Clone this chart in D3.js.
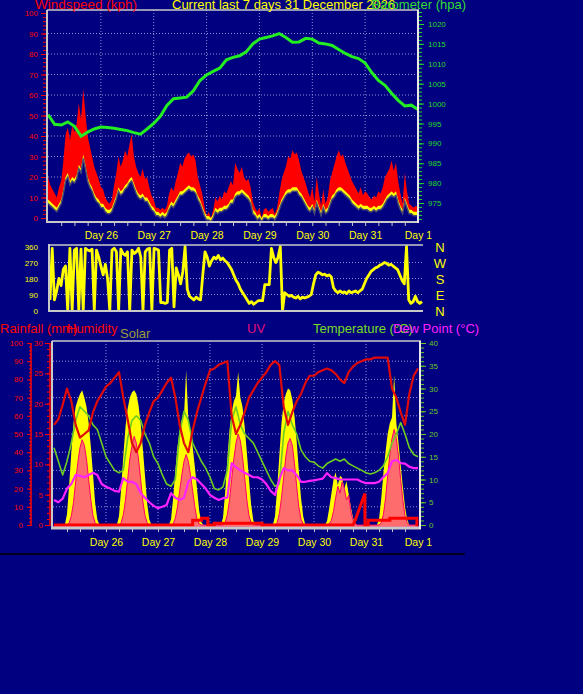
<!DOCTYPE html>
<html>
<head>
<meta charset="utf-8">
<script src="https://cdn.jsdelivr.net/npm/d3@7"></script>
<style>
  html, body { margin: 0; padding: 0; background: #000080; }
  svg { display: block; font-family: "Liberation Sans", Arial, sans-serif; }
</style>
</head>
<body>
<div id="viz"></div>
<script>
// all series are indexed by hour since 25 Dec 00:00 (hourly, 2-hourly or 3-hourly)
var dayLabels = ["Day 26", "Day 27", "Day 28", "Day 29", "Day 30", "Day 31", "Day 1"];
var dayHours = [24, 48, 72, 96, 120, 144, 168];

// wind gust, kph, hourly
var windGust = [20,16,14,12,10, 15,18,28, 41,44,38, 45,42,46, 56,48,63, 51,40, 35,30,25,22,
  19,15,14,10,8,7,9, 16,22,30,25,28, 33,30,36,41, 30,25,22,20,24, 19,20,15,11,9,
  5,5,4,5,4,6, 12,15,13,18, 22,27,25,29, 31,32,30,31,28, 20,16,12,6,1, 3,0,4,
  10,8,11,9,13,12,15, 18,16,27,24, 22,25,20,18,19,15, 8,5,3, 5,0,4,5,3,4,5,2,5,
  12,18,22,25, 30,29,33,31,32,28, 23,20,17,13, 10,15,8,20,12,6,14,7,10,
  18,22,26,30,33, 30,31,27,24, 21,18,16,14,12,15,11,13,12, 10,9,11,10,13,12,
  15,20,22,24,28,23,27, 18,12,7,22, 13,7,6,5,6,5];

// average wind speed, kph, hourly
var windAvg = [9,8,7,6,5, 7,9,14, 20,22,18, 20,19,21, 26,24,31, 26,20, 17,15,12,10,
  9,7,7,5,4,4,5, 8,11,15,13,14, 16,17,19,20, 17,14,12,11,12, 10,10,8,6,5,
  3,3,2,3,2,3, 6,8,7,9, 11,13,13,14, 15,16,15,15,14, 11,9,6,3,1, 1,0,2,
  5,4,5,5,6,6,7, 9,9,12,13, 13,14,13,12,11,9, 4,3,1, 2,0,2,2,1,2,2,1,3,
  6,9,11,13, 14,14,15,15,15,13, 12,10,8,6, 5,7,4,9,6,3,7,4,5,
  8,11,12,14,15, 15,14,13,12, 11,9,8,7,6,7,6,6,6, 5,5,6,5,6,6,
  7,9,11,12,13,12,13, 9,6,4,10, 7,4,4,3,3,3];

// barometer, hPa, every 3 hours
var pressure = [997.2,994.8,994.6,995.4,994.3,991.8,992.8,993.6,994.1,994.0,
  993.8,993.5,993.2,992.7,992.3,993.6,995.0,996.8,999.5,1001.2,
  1001.4,1001.6,1003.2,1005.8,1007.2,1008.1,1008.9,1011.0,1011.6,1012.0,
  1013.0,1015.0,1016.2,1016.6,1017.0,1017.6,1016.6,1015.4,1015.5,1016.4,
  1016.2,1015.2,1015.0,1014.6,1013.6,1012.6,1011.8,1011.3,1010.2,1007.8,
  1005.8,1004.6,1002.6,1000.8,999.4,999.6,998.5];

// wind direction, degrees, hourly
var windDir = [60,350,60,110,180,140,230,250,0,350, 0,340,350,0,345,0,350,340,335,345,
  0,340,300,250,200,260,180,0,340,350, 330,0,345,320,310,330,0,340,320,330,
  350,300,0,330,345,350,0,
  350,345,340,45,45,40,45,340,350,20, 240,200,150,220,360,120,80,70,60,75,
  65,60,200,330,300,250,280,300,290,310, 285,295,280,270,250,230,200,170,150,120,
  100,80,60,40,50,35,45,55,55,55, 145,145,145,350,300,270,300,360,0,100,
  90,80,85,75,70,80,65,75,70,75, 80,90,
  150,200,215,210,200,205,195,200,190,130, 110,100,110,100,105,95,110,100,105,110,
  100,110,120,150,180,200,220,230,240,245, 255,260,270,265,255,260,250,240,230,200,
  170,150,360,60,40,50,80,50,40,50];
var compass = ["N", "W", "S", "E", "N"];
var compassDeg = [360, 270, 180, 90, 0];

// humidity %, temperature and dew point °C, every 2 hours
var humidity = [55,58,66,75,68,55,48,50,52,62, 68,72,76,78,81,84,70,58,45,40,
  45,55,62,68,70,74,78,81,70,55, 45,40,52,62,70,78,85,86,88,89,
  90,60,50,55,62,70,74,78,81,84, 88,90,88,65,55,62,68,72,78,82,
  82,84,85,86,85,83,80,78,84,87, 89,90,91,91,92,92,92,92,75,70,
  62,55,72,82,86];
var temperature = [17,14,11,14,18,23,26,25,24,22, 21,18,15,13.5,12,11.5,12,19,23,24,
  23,20,18,15,13.5,11,9,8.5,10,20, 25,23,18,16,14,12.5,10.5,8,7.7,8.4,
  12,23,26,22,20,19,18,16,14,12, 10,8.5,9,20,25,22,20,16.5,15,14,
  13.8,13,12.5,13.5,14,14.5,14,14.5,13.5,13, 12.5,12,11.5,11.2,11.5,12,13,15,18,20,
  22.5,20,17,15.5,15];
var dewPoint = [5.5,5,5.8,8,9,11,10.8,10.5,11,11.5, 11,9,8.4,8,7.5,7.3,10.3,9.5,9.5,9,
  7,6,5,4.2,3.7,4,4.4,7,6,5.5, 6,9.5,10.5,10,9,8,6.6,6,5.5,5.9,
  6,13.6,12.7,12,11.5,11,10.5,10.5,10,9, 7.5,6.6,10,12.5,12,12,11,9.5,9.5,9.7,
  9.8,10,10.2,11.4,10.5,10.3,10,10,10,10, 10,9.5,9.2,9.2,9.2,9.5,10.5,11.4,14,14.3,
  13.6,13.5,12.8,12.5,12.5];

// solar W/m2 and UV index, hourly
var solar = [0,0,0,0,0,0,60,220,400,560,650,690,720,740,700,650,560,430,280,120,30,0,0,0,
  0,0,0,0,0,0,50,200,380,540,640,700,730,740,720,660,560,420,270,120,30,0,0,0,
  0,0,0,0,0,0,30,150,300,430,520,580,600,850,580,520,430,320,200,80,15,0,0,0,
  0,0,0,0,0,0,40,180,360,520,620,680,710,840,700,650,540,400,250,110,25,0,0,0,
  0,0,0,0,0,0,50,200,380,560,670,720,750,740,690,600,460,300,150,50,0,0,0,0,
  0,0,0,0,0,0,20,90,170,250,290,220,270,260,200,240,170,100,40,10,0,0,0,0,
  0,0,0,0,0,0,30,140,280,400,500,560,590,825,560,450,330,210,100,30,0,0,0,0,
  0];
var uv = [0,0,0,0,0,0,0,0.2,0.8,2,3.8,5.5,6.8,7.5,7,5.8,4,2.2,0.8,0.2,0,0,0,0,
  0,0,0,0,0,0,0,0.2,0.9,2.2,4,5.8,7,7.8,7.2,5.8,4,2.1,0.8,0.2,0,0,0,0,
  0,0,0,0,0,0,0,0.1,0.6,1.6,3,4.4,5.6,6.2,5.6,4.4,3,1.6,0.5,0.1,0,0,0,0,
  0,0,0,0,0,0,0,0.2,0.9,2.2,4,5.8,7.2,8,7.4,6,4.2,2.2,0.8,0.2,0,0,0,0,
  0,0,0,0,0,0,0,0.2,1,2.4,4.2,6,7.2,7.6,7,5.4,3.4,1.6,0.5,0.1,0,0,0,0,
  0,0,0,0,0,0,0,0.1,0.4,1.2,2.4,3.4,2.8,3.8,3.2,2.2,2.6,1.2,0.4,0.1,0,0,0,0,
  0,0,0,0,0,0,0,0.2,0.9,2.3,4.3,6.2,7.6,8.4,7.6,6,4,2.2,0.8,0.2,0,0,0,0,
  0];

// rainfall mm (hour, value) step points
var rainHours = [0,64,64,68,68,71,71,74,74,96,96,138,139,143.5,143.5,145,145,155,155,167.5,167.5,168];
var rainValues = [0,0,0.8,0.8,1.1,1.1,0,0,0.3,0.3,0,0,0.8,5.2,0,0,0.8,0.8,1.1,1.1,0,0];

var width = 583, height = 694;
var bg = "#000080", gridColor = "#9090d8", axisGrey = "#c8c8c8";
var fmt = d3.format("d");

var svg = d3.select("#viz").append("svg")
  .attr("width", width)
  .attr("height", height);
svg.append("rect").attr("width", width).attr("height", height).attr("fill", bg);
var defs = svg.append("defs");

function clip(id, x, y, w, h) {
  defs.append("clipPath").attr("id", id)
    .append("rect").attr("x", x).attr("y", y).attr("width", w).attr("height", h);
}

function styleAxis(g, color, size) {
  g.select(".domain").remove();
  g.selectAll(".tick line").attr("stroke", color);
  g.selectAll(".tick text").attr("fill", color).attr("font-size", size);
}

function hline(g, x1, x2, y, color, w) {
  g.append("line").attr("x1", x1).attr("x2", x2).attr("y1", y).attr("y2", y)
    .attr("stroke", color).attr("stroke-width", w);
}
function vline(g, x, y1, y2, color, w) {
  g.append("line").attr("x1", x).attr("x2", x).attr("y1", y1).attr("y2", y2)
    .attr("stroke", color).attr("stroke-width", w);
}

//---------------- top panel: wind speed + barometer ----------------
var xTop = d3.scaleLinear().domain([0, 168]).range([48, 418]);
var yWind = d3.scaleLinear().domain([0, 100]).range([218, 13]);
var yBaro = d3.scaleLinear().domain([975, 1020]).range([203, 24]);
clip("clipTop", 48, 10, 370, 211);

var gTop = svg.append("g");
gTop.selectAll(".hg").data(d3.range(10, 100, 10)).enter().append("line")
  .attr("x1", 48).attr("x2", 418)
  .attr("y1", function(d) { return yWind(d); })
  .attr("y2", function(d) { return yWind(d); })
  .attr("stroke", gridColor).attr("stroke-dasharray", "1,2");
gTop.selectAll(".vg").data(dayHours.slice(0, 6)).enter().append("line")
  .attr("x1", function(d) { return xTop(d); })
  .attr("x2", function(d) { return xTop(d); })
  .attr("y1", 10).attr("y2", 222)
  .attr("stroke", gridColor).attr("stroke-dasharray", "1,2");

var dataTop = gTop.append("g").attr("clip-path", "url(#clipTop)");
var gustArea = d3.area()
  .x(function(d, i) { return xTop(i); })
  .y0(224)
  .y1(function(d) { return yWind(d); });
dataTop.append("path").datum(windGust).attr("d", gustArea).attr("fill", "#ff0000");
dataTop.append("path").datum(windAvg).attr("d", gustArea).attr("fill", "#ffff00");
// darker band under the average speed
dataTop.append("path").datum(windAvg).attr("d", gustArea)
  .attr("transform", "translate(0,4)").attr("fill", bg);
dataTop.append("path").datum(windAvg)
  .attr("d", d3.line().x(function(d, i) { return xTop(i); }).y(function(d) { return yWind(d); }))
  .attr("transform", "translate(0,4)")
  .attr("fill", "none").attr("stroke", "#4a4a72").attr("stroke-width", 1.5);

dataTop.append("path").datum(pressure)
  .attr("d", d3.line().x(function(d, i) { return xTop(i * 3); }).y(function(d) { return yBaro(d); }))
  .attr("fill", "none").attr("stroke", "#22ee22").attr("stroke-width", 3);

// axes
var axL = gTop.append("g").attr("transform", "translate(46,0)")
  .call(d3.axisLeft(yWind).tickValues(d3.range(0, 101, 10)).tickSize(5).tickPadding(3).tickFormat(fmt));
styleAxis(axL, "#ff0000", "8px");
var axLm = gTop.append("g").attr("transform", "translate(46,0)")
  .call(d3.axisLeft(yWind).tickValues(d3.range(0, 101, 2)).tickSize(3).tickFormat(""));
styleAxis(axLm, "#ff0000", "8px");

var axR = gTop.append("g").attr("transform", "translate(419,0)")
  .call(d3.axisRight(yBaro).tickValues(d3.range(975, 1021, 5)).tickSize(5).tickPadding(4).tickFormat(fmt));
styleAxis(axR, "#22dd22", "8px");
var axRm = gTop.append("g").attr("transform", "translate(419,0)")
  .call(d3.axisRight(yBaro).tickValues(d3.range(971, 1024, 1)).tickSize(3).tickFormat(""));
styleAxis(axRm, "#22dd22", "8px");

var axB = gTop.append("g").attr("transform", "translate(0,223)")
  .call(d3.axisBottom(xTop).tickValues(d3.range(6, 168, 6)).tickSize(3).tickFormat(""));
styleAxis(axB, axisGrey, "8px");
var axBd = gTop.append("g").attr("transform", "translate(0,232)")
  .call(d3.axisBottom(xTop).tickValues(dayHours).tickSize(0).tickPadding(0)
    .tickFormat(function(d, i) { return dayLabels[i]; }));
styleAxis(axBd, "#ffff00", "10.5px");

hline(gTop, 47, 419, 10, axisGrey, 1.5);
hline(gTop, 46, 419, 222, axisGrey, 2);
vline(gTop, 47, 10, 223, axisGrey, 2);
vline(gTop, 418, 10, 223, "#e8e8e8", 2);

// titles
svg.append("text").attr("x", 35).attr("y", 9).attr("fill", "#ff0000")
  .attr("font-size", "13.5px").text("Windspeed (kph)");
svg.append("text").attr("x", 172).attr("y", 9).attr("fill", "#ffff00")
  .attr("font-size", "13px").text("Current last 7 days 31 December 2026");
svg.append("text").attr("x", 466).attr("y", 9).attr("fill", "#33dd33")
  .attr("text-anchor", "end").attr("font-size", "13px").text("Barometer (hpa)");

//---------------- middle panel: wind direction ----------------
var xMid = d3.scaleLinear().domain([0, 168]).range([50, 422]);
var yDir = d3.scaleLinear().domain([0, 360]).range([310.5, 246.5]);
clip("clipMid", 49, 244, 375, 68);
var gMid = svg.append("g");
gMid.selectAll(".dg").data([90, 180, 270]).enter().append("line")
  .attr("x1", 49).attr("x2", 423)
  .attr("y1", function(d) { return yDir(d); })
  .attr("y2", function(d) { return yDir(d); })
  .attr("stroke", gridColor).attr("stroke-dasharray", "1,2");
gMid.append("g").attr("clip-path", "url(#clipMid)")
  .append("path").datum(windDir)
  .attr("d", d3.line().x(function(d, i) { return xMid(i); }).y(function(d) { return yDir(d); }))
  .attr("fill", "none").attr("stroke", "#ffff00").attr("stroke-width", 2.8)
  .attr("stroke-linejoin", "round");
var axDir = gMid.append("g").attr("transform", "translate(48,0)")
  .call(d3.axisLeft(yDir).tickValues([0, 90, 180, 270, 360]).tickSize(0).tickPadding(10));
styleAxis(axDir, "#ffff00", "8px");
hline(gMid, 49, 423, 245, axisGrey, 1.5);
hline(gMid, 49, 423, 311, axisGrey, 2);
vline(gMid, 49, 244, 312, axisGrey, 2);
gMid.selectAll(".cp").data(compass).enter().append("text")
  .attr("x", 440)
  .attr("y", function(d, i) { return yDir(compassDeg[i]) + 5; })
  .attr("text-anchor", "middle").attr("fill", "#ffff00").attr("font-size", "13px")
  .text(function(d) { return d; });

//---------------- bottom panel ----------------
var xBot = d3.scaleLinear().domain([0, 168]).range([54, 418]);
var yHum = d3.scaleLinear().domain([0, 100]).range([525, 343]);
var yRain = d3.scaleLinear().domain([0, 30]).range([525, 343]);
var yTemp = d3.scaleLinear().domain([0, 40]).range([525, 343]);
var ySolar = d3.scaleLinear().domain([0, 1000]).range([525, 343]);
var yUV = d3.scaleLinear().domain([0, 16]).range([525, 343]);
clip("clipBot", 53, 341, 367, 186);

var gBot = svg.append("g");
gBot.selectAll(".bh").data(d3.range(10, 100, 10)).enter().append("line")
  .attr("x1", 53).attr("x2", 420)
  .attr("y1", function(d) { return yHum(d); })
  .attr("y2", function(d) { return yHum(d); })
  .attr("stroke", gridColor).attr("stroke-dasharray", "1,2");
gBot.selectAll(".bv").data(dayHours.slice(0, 6)).enter().append("line")
  .attr("x1", function(d) { return xBot(d); })
  .attr("x2", function(d) { return xBot(d); })
  .attr("y1", 341).attr("y2", 528)
  .attr("stroke", gridColor).attr("stroke-dasharray", "1,2");

var dataBot = gBot.append("g").attr("clip-path", "url(#clipBot)");
dataBot.append("path").datum(solar)
  .attr("d", d3.area().x(function(d, i) { return xBot(i); }).y0(527)
    .y1(function(d) { return ySolar(d); }))
  .attr("fill", "#ffff00");
dataBot.append("path").datum(uv)
  .attr("d", d3.area().x(function(d, i) { return xBot(i); }).y0(527)
    .y1(function(d) { return yUV(d); }))
  .attr("fill", "#ff3399").attr("fill-opacity", 0.72)
  .attr("stroke", "#ff0066").attr("stroke-width", 1);

function seriesLine(data, step, scale, color, w) {
  dataBot.append("path").datum(data)
    .attr("d", d3.line().x(function(d, i) { return xBot(i * step); })
      .y(function(d) { return scale(d); }))
    .attr("fill", "none").attr("stroke", color).attr("stroke-width", w)
    .attr("stroke-linejoin", "round");
}
seriesLine(temperature, 2, yTemp, "#6ccc22", 1.6);
seriesLine(dewPoint, 2, yTemp, "#ff22ff", 2.2);
seriesLine(humidity, 2, yHum, "#e00a0a", 2.2);

dataBot.append("path").datum(rainValues)
  .attr("d", d3.line().x(function(d, i) { return xBot(rainHours[i]); })
    .y(function(d) { return yRain(d); }))
  .attr("fill", "none").attr("stroke", "#ff0000").attr("stroke-width", 3);

// left axes
var axHum = gBot.append("g").attr("transform", "translate(31,0)")
  .call(d3.axisLeft(yHum).tickValues(d3.range(0, 101, 10)).tickSize(4).tickPadding(4).tickFormat(fmt));
styleAxis(axHum, "#ff0000", "8px");
var axHumM = gBot.append("g").attr("transform", "translate(31,0)")
  .call(d3.axisLeft(yHum).tickValues(d3.range(0, 101, 2)).tickSize(2).tickFormat(""));
styleAxis(axHumM, "#ff0000", "8px");
vline(gBot, 31, 343, 526, "#ff0000", 1.5);

var axRain = gBot.append("g").attr("transform", "translate(50,0)")
  .call(d3.axisLeft(yRain).tickValues(d3.range(0, 31, 5)).tickSize(5).tickPadding(2).tickFormat(fmt));
styleAxis(axRain, "#ff0000", "8px");
var axRainM = gBot.append("g").attr("transform", "translate(50,0)")
  .call(d3.axisLeft(yRain).tickValues(d3.range(0, 31, 1)).tickSize(3).tickFormat(""));
styleAxis(axRainM, "#ff0000", "8px");
vline(gBot, 50, 343, 526, "#ff0000", 1.5);

var axTemp = gBot.append("g").attr("transform", "translate(421,0)")
  .call(d3.axisRight(yTemp).tickValues(d3.range(0, 41, 5)).tickSize(5).tickPadding(3).tickFormat(fmt));
styleAxis(axTemp, "#66cc22", "8px");
var axTempM = gBot.append("g").attr("transform", "translate(421,0)")
  .call(d3.axisRight(yTemp).tickValues(d3.range(0, 41, 1)).tickSize(3).tickFormat(""));
styleAxis(axTempM, "#66cc22", "8px");

var axX = gBot.append("g").attr("transform", "translate(0,529)")
  .call(d3.axisBottom(xBot).tickValues(d3.range(6, 168, 6)).tickSize(3).tickFormat(""));
styleAxis(axX, axisGrey, "8px");
var axXd = gBot.append("g").attr("transform", "translate(0,539)")
  .call(d3.axisBottom(xBot).tickValues(dayHours).tickSize(0).tickPadding(0)
    .tickFormat(function(d, i) { return dayLabels[i]; }));
styleAxis(axXd, "#ffff00", "10.5px");

hline(gBot, 52, 421, 341, axisGrey, 1.5);
hline(gBot, 51, 421, 528, axisGrey, 3);
vline(gBot, 52, 341, 529, axisGrey, 2);
vline(gBot, 420, 341, 529, "#e8e8e8", 2);

// bottom titles
var titles = [
  {t: "Rainfall (mm)", x: 0, y: 333, c: "#ff0000"},
  {t: "Humidity", x: 67, y: 333, c: "#ff0000"},
  {t: "Solar", x: 120, y: 338, c: "#9c9c3c"},
  {t: "UV", x: 247, y: 333, c: "#e0107a"},
  {t: "Temperature (°C)", x: 313, y: 333, c: "#77dd22"},
  {t: "Dew Point (°C)", x: 393, y: 333, c: "#ff22ff"}
];
svg.selectAll(".bt").data(titles).enter().append("text")
  .attr("x", function(d) { return d.x; })
  .attr("y", function(d) { return d.y; })
  .attr("fill", function(d) { return d.c; })
  .attr("font-size", "13px")
  .text(function(d) { return d.t; });

// separator under the chart
hline(svg, 0, 465, 554, "#000000", 1.5);
</script>
</body>
</html>
